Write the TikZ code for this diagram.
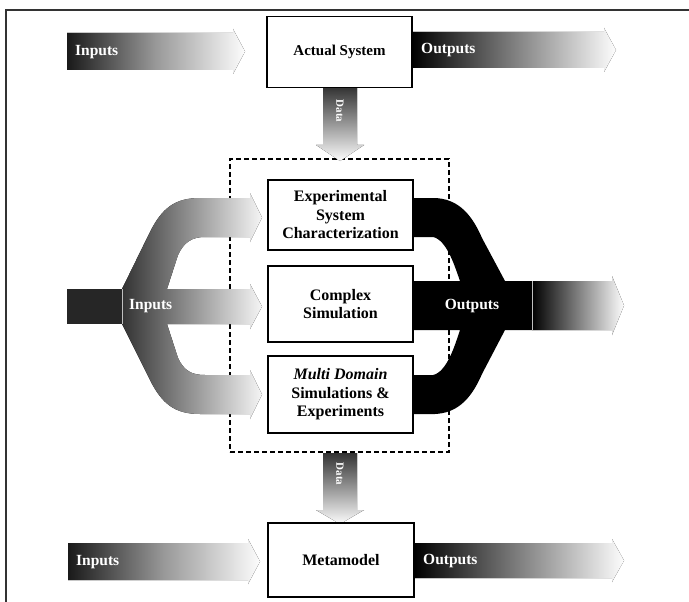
\documentclass[tikz,border=0pt]{standalone}
\usepackage{fontspec}
\setmainfont{Liberation Serif}
\begin{document}
\begin{tikzpicture}[x=1pt,y=-1pt,
  box/.style={draw=black, line width=1.4pt, fill=white, align=center,
    font=\fontsize{16}{18.5}\selectfont\bfseries, inner sep=0pt},
  lbl/.style={text=white, font=\fontsize{15.5}{16}\selectfont\bfseries, inner sep=0pt},
  datalbl/.style={text=white, font=\fontsize{11}{13}\selectfont\bfseries, inner sep=0pt, rotate=-90},
  fadebar/.style={left color=black!90, right color=black!1, middle color=black!40},
  fadebarB/.style={left color=black, right color=black!1, middle color=black!50},
  fadedown/.style={top color=black!80, bottom color=black!1}]
\fill[white] (0,0) rectangle (689,602);
\useasboundingbox (0,0) rectangle (689,602);
% frame
\draw[line width=1.2pt, black!80] (6,602) -- (6,10) -- (689,10);

% dashed group box
\node[draw=black, dash pattern=on 5pt off 3pt, line width=1.3pt,
  minimum width=219pt, minimum height=293pt, inner sep=0pt] (group) at (339.5,305.5) {};

% top row bars
\fill[fadebar] (67,33) -- (233,33) -- (233,29) -- (245,51.5) -- (233,74) -- (233,70) -- (67,70) -- cycle;
\fill[fadebarB] (412,32) -- (604,32) -- (604,28) -- (616,50) -- (604,72) -- (604,68) -- (412,68) -- cycle;
% bottom row bars
\fill[fadebar] (68,543) -- (248,543) -- (248,539) -- (260,561.5) -- (248,584) -- (248,580) -- (68,580) -- cycle;
\fill[fadebarB] (414,543) -- (612,543) -- (612,539) -- (624,560.5) -- (612,582) -- (612,578) -- (414,578) -- cycle;

% data arrows
\fill[fadedown] (323,87) -- (357,87) -- (357,145) -- (364,145) -- (340,161) -- (316,145) -- (323,145) -- cycle;
\fill[fadedown] (323,453) -- (357,453) -- (357,510) -- (364,510) -- (340,524) -- (316,510) -- (323,510) -- cycle;

% left input fork
\fill[black!85] (67,289) rectangle (122,324);
\fill[left color=black!80, right color=black!4]
  (122,289) -- (150,232) .. controls (162,208) and (175,198) .. (200,198)
  -- (250,198) -- (250,193) -- (262,217.5) -- (250,242) -- (250,237)
  -- (205,237) .. controls (192,237) and (184,242) .. (178,255) -- (167,289)
  -- (250,289) -- (250,284) -- (262,306.5) -- (250,329) -- (250,324)
  -- (167,324) -- (178,358) .. controls (184,371) and (192,375) .. (205,375)
  -- (250,375) -- (250,370) -- (262,394.5) -- (250,419) -- (250,414)
  -- (200,414) .. controls (175,414) and (162,404) .. (150,380) -- (122,324) -- cycle;
\draw[white!75!black, line width=0.6pt] (122,289) -- (122,324);

% right output fork
\fill[black]
  (413,198) -- (435,198) .. controls (455,199) and (470,210) .. (482,238) -- (505,281)
  -- (532,281) -- (532,330) -- (505,330)
  -- (482,374) .. controls (470,402) and (455,413) .. (435,414) -- (413,414)
  -- (413,375) -- (433,375) .. controls (447,372) and (455,345) .. (460,330)
  -- (413,330) -- (413,281) -- (460,281)
  .. controls (455,267) and (447,240) .. (433,237) -- (413,237) -- cycle;
\fill[fadebarB] (532,281) -- (612,281) -- (612,276) -- (624,305.5) -- (612,335) -- (612,330) -- (532,330) -- cycle;
\draw[white!75!black, line width=0.6pt] (532,281) -- (532,330);

% boxes
\node[box, font=\fontsize{15}{18}\selectfont\bfseries, minimum width=145pt, minimum height=71pt] (actual) at (339.5,52) {Actual System};
\node[box, minimum width=145pt, minimum height=70pt] (exp) at (340.5,215) {Experimental\\System\\Characterization};
\node[box, minimum width=145pt, minimum height=76pt] (cplx) at (340.5,304) {Complex\\Simulation};
\node[box, minimum width=145pt, minimum height=77pt] (multi) at (340.5,394.5) {\textit{Multi Domain}\\Simulations \&\\Experiments};
\node[box, minimum width=146pt, minimum height=74pt] (meta) at (341,560) {Metamodel};

% labels on bars
\node[lbl, anchor=west] (inTop) at (75,52) {Inputs};
\node[lbl, anchor=west] (outTop) at (421,50) {Outputs};
\node[lbl, anchor=west] (inBot) at (76,562) {Inputs};
\node[lbl, anchor=west] (outBot) at (423,561) {Outputs};
\node[lbl, anchor=west] (inMid) at (129,306.5) {Inputs};
\node[lbl] (outMid) at (472,306) {Outputs};
\node[datalbl] (dataTop) at (340,111) {Data};
\node[datalbl] (dataBot) at (340,474) {Data};
\end{tikzpicture}
\end{document}
